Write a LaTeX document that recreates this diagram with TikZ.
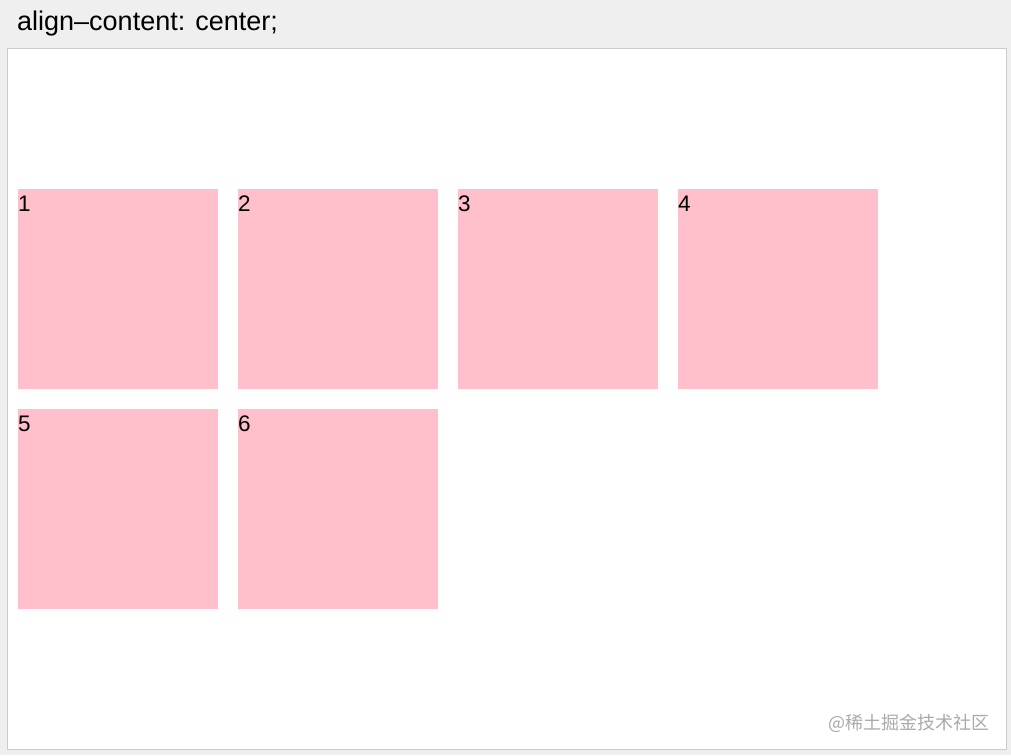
\documentclass[tikz,border=0pt]{standalone}
\usepackage{fontspec}
\setmainfont{Liberation Sans}
\newfontfamily\cjkfont{Noto Sans CJK SC}
\usetikzlibrary{positioning}
\definecolor{pagegray}{HTML}{EFEFEF}
\definecolor{panelline}{HTML}{CCCCCC}
\definecolor{itempink}{HTML}{FFC0CB}
\definecolor{markgray}{HTML}{AAAAAA}

\begin{document}
\begin{tikzpicture}[x=1pt,y=-1pt,node distance=20pt,
  item/.style={rectangle,fill=itempink,minimum size=200pt,inner sep=0pt,outer sep=0pt},
  num/.style={anchor=north west,inner sep=0pt,yshift=-7pt,font=\fontsize{22.5}{22.5}\selectfont}]
\fill[pagegray] (0,0) rectangle (1011,755);
\useasboundingbox (0,0) rectangle (1011,755);

\node[anchor=base west,inner sep=0pt,font=\fontsize{27}{27}\selectfont] (title) at (17,30) {align--content: center;};
\node[rectangle,draw=panelline,fill=white,minimum width=999pt,minimum height=701pt,inner sep=0pt,anchor=north west] (panel) at (7,48) {};

\node[item,anchor=north west] (box1) at (18,189) {};
\node[item,right=of box1] (box2) {};
\node[item,right=of box2] (box3) {};
\node[item,right=of box3] (box4) {};
\node[item,below=of box1] (box5) {};
\node[item,right=of box5] (box6) {};

\node[num] (n1) at (box1.north west) {1};
\node[num] (n2) at (box2.north west) {2};
\node[num] (n3) at (box3.north west) {3};
\node[num] (n4) at (box4.north west) {4};
\node[num] (n5) at (box5.north west) {5};
\node[num] (n6) at (box6.north west) {6};

\node[anchor=base east,inner sep=0pt,text=markgray,font=\cjkfont\fontsize{18}{18}\selectfont] (mark) at (990,729) {@稀土掘金技术社区};
\end{tikzpicture}
\end{document}
